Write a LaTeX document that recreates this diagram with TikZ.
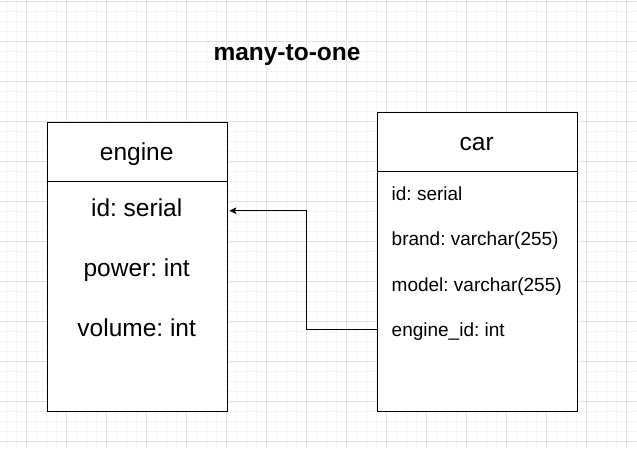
\documentclass[tikz,border=0pt]{standalone}
\usepackage{fontspec}
\setmainfont{Liberation Sans}
\usetikzlibrary{arrows.meta}
\begin{document}
\frenchspacing
\begin{tikzpicture}[x=1pt,y=-1pt,
  minorline/.style={draw=black!4, line width=0.8pt},
  majorline/.style={draw=black!12, line width=0.9pt},
  tbl/.style={draw=black, fill=white, line width=1.2pt, rectangle, anchor=north west, inner sep=0pt},
  bigtxt/.style={inner sep=0pt, font=\fontsize{24.5}{29}\selectfont},
  smalltxt/.style={inner sep=0pt, anchor=base west, font=\fontsize{19}{23}\selectfont},
  conn/.style={draw=black, line width=1pt, -{Stealth[length=7pt,width=6.5pt,inset=1.5pt]}}]
\useasboundingbox (0,0) rectangle (637,448);
\fill[white] (0,0) rectangle (637,448);
% grid
\foreach \x in {6.7,16.7,...,636} \draw[minorline] (\x,0) -- (\x,448);
\foreach \y in {1.7,11.7,...,447} \draw[minorline] (0,\y) -- (637,\y);
\foreach \x in {26.7,66.7,...,636} \draw[majorline] (\x,0) -- (\x,448);
\foreach \y in {1.7,41.7,...,447} \draw[majorline] (0,\y) -- (637,\y);
% title
\node[inner sep=0pt, anchor=base, font=\bfseries\fontsize{24.5}{29}\selectfont] (title) at (287,60) {many-to-one};
% engine table
\node[tbl, minimum width=180pt, minimum height=289.5pt] (engbox) at (46.7,121.7) {};
\draw[line width=1.2pt] ([yshift=-59.5pt]engbox.north west) -- ([yshift=-59.5pt]engbox.north east);
\node[bigtxt, anchor=base] (enghead) at (136.7,160.5) {engine};
\node[bigtxt, anchor=base] (engid) at (136.7,216) {id: serial};
\node[bigtxt, anchor=base] (engpower) at (136.7,276) {power: int};
\node[bigtxt, anchor=base] (engvolume) at (136.7,336) {volume: int};
% car table
\node[tbl, minimum width=200pt, minimum height=299.5pt] (carbox) at (376.7,111.7) {};
\draw[line width=1.2pt] ([yshift=-59.5pt]carbox.north west) -- ([yshift=-59.5pt]carbox.north east);
\node[bigtxt, anchor=base] (carhead) at (476.7,150.5) {car};
\node[smalltxt] (carid) at (391.5,200) {id: serial};
\node[smalltxt] (carbrand) at (391.5,245.5) {brand: varchar(255)};
\node[smalltxt] (carmodel) at (391.5,291) {model: varchar(255)};
\node[smalltxt] (carengine) at (391.5,336) {engine\_id: int};
% connector
\coordinate (fkport) at (carbox.west |- 0,329);
\coordinate (pkport) at (229.3,210.7);
\coordinate (bend) at (306.7,329);
\draw[conn] (fkport) -- (bend) |- (pkport);
\end{tikzpicture}
\end{document}
